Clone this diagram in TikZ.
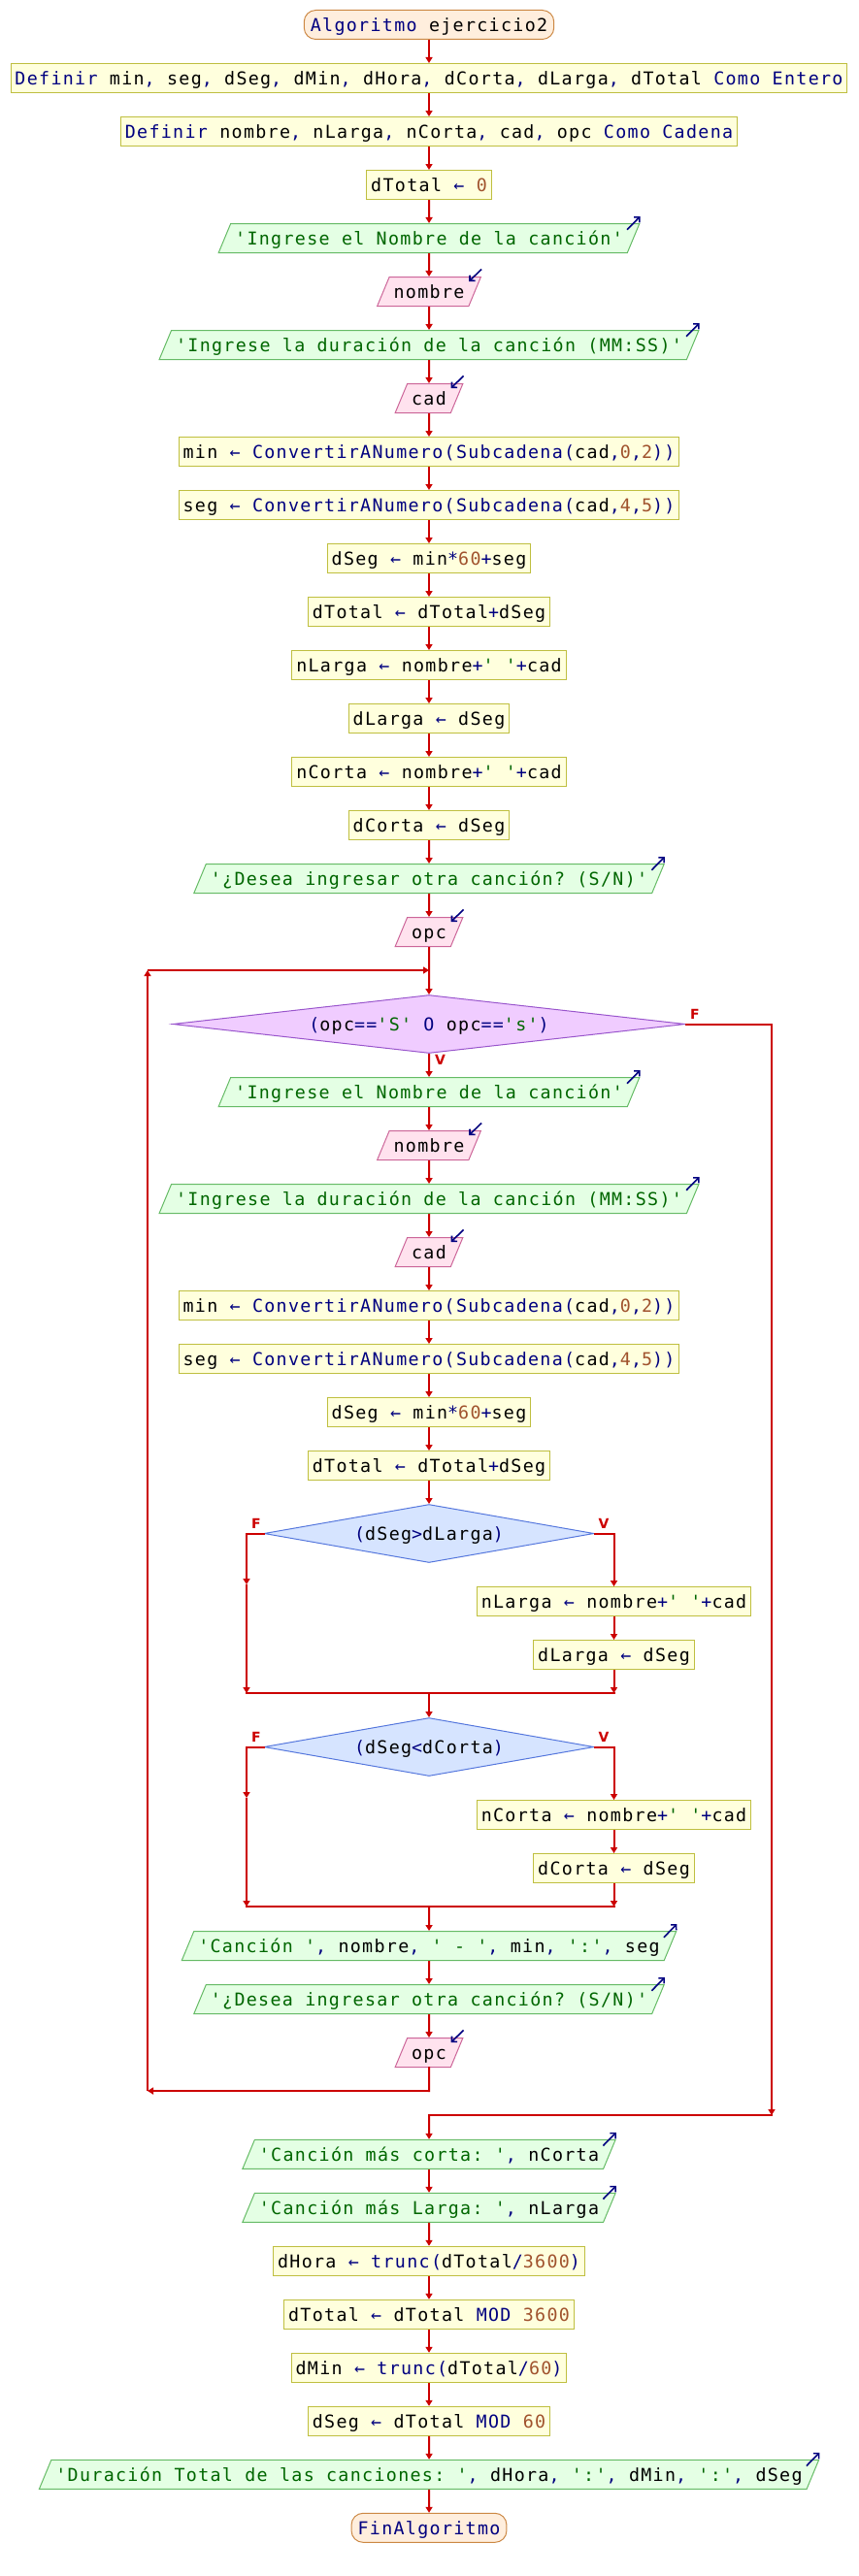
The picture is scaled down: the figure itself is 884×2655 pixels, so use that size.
\documentclass[tikz,border=0pt]{standalone}
\usepackage{fontspec}
\setmonofont{DejaVu Sans Mono}[LetterSpace=7.3]
\newfontfamily\lblfont{DejaVu Sans}
\usetikzlibrary{shapes.geometric,arrows.meta}
\definecolor{navy}{HTML}{000080}
\definecolor{numc}{HTML}{A0522D}
\definecolor{strc}{HTML}{006600}
\definecolor{flowc}{HTML}{CC0000}
\definecolor{procf}{HTML}{FFFFDD}
\definecolor{procb}{HTML}{BFBF40}
\definecolor{termf}{HTML}{FFEEDD}
\definecolor{termb}{HTML}{CC8844}
\definecolor{outf}{HTML}{E4FFE4}
\definecolor{outb}{HTML}{66BB66}
\definecolor{inf}{HTML}{FFE2EE}
\definecolor{inb}{HTML}{CC6699}
\definecolor{loopf}{HTML}{F0CCFF}
\definecolor{loopb}{HTML}{9955CC}
\definecolor{iff}{HTML}{D6E4FF}
\definecolor{ifb}{HTML}{5577DD}
\newcommand\code{\ttfamily\fontsize{18.3pt}{22pt}\selectfont}
\newcommand\kwd[1]{\textcolor{navy}{#1}}
\newcommand\nmb[1]{\textcolor{numc}{#1}}
\newcommand\strg[1]{\textcolor{strc}{#1}}
\newcommand\outmark[1]{\draw[oarr] ([shift={(-13.5,6.7)}]#1.top right corner) -- ([shift={(0,-7)}]#1.top right corner);}
\newcommand\inmark[1]{\draw[oarr] ([shift={(0,-7.5)}]#1.top right corner) -- ([shift={(-13,5)}]#1.top right corner);}
\tikzset{
 base/.style={font=\code, text height=13.6pt, text depth=0pt, inner xsep=4.5pt, inner ysep=8.2pt, line width=1pt, anchor=center},
 proc/.style={base, rectangle, draw=procb, fill=procf},
 term/.style={base, rectangle, rounded corners=12pt, draw=termb, fill=termf, inner xsep=6.5pt},
 outp/.style={base, trapezium, trapezium left angle=67.4, trapezium right angle=112.6, draw=outb, fill=outf},
 inp/.style={outp, draw=inb, fill=inf},
 loopd/.style={base, diamond, inner sep=0pt, aspect=8.8, minimum width=528pt, minimum height=60pt, draw=loopb, fill=loopf},
 ifd/.style={base, diamond, inner sep=0pt, aspect=5.6, minimum width=340pt, minimum height=60pt, draw=ifb, fill=iff},
 flow/.style={draw=flowc, line width=2pt, -{Triangle[length=6pt,width=7pt]}},
 wire/.style={draw=flowc, line width=2pt, line cap=rect},
 oarr/.style={draw=navy, line width=1.6pt, -{Straight Barb[length=4pt,width=8pt]}},
 lbl/.style={font=\lblfont\bfseries\fontsize{14pt}{16pt}\selectfont, text=flowc, inner sep=0pt},
}
\begin{document}
\begin{tikzpicture}[x=1pt,y=-1pt]
\useasboundingbox (0,0) rectangle (884,2655);
% ---- nodes
\node[term] (start) at (442,25.5) {\kwd{Algoritmo} ejercicio2};
\node[proc, inner xsep=4pt] (def1) at (442,80.5) {\kwd{Definir} min\kwd{,} seg\kwd{,} dSeg\kwd{,} dMin\kwd{,} dHora\kwd{,} dCorta\kwd{,} dLarga\kwd{,} dTotal \kwd{Como Entero}};
\node[proc] (def2) at (442,135.5) {\kwd{Definir} nombre\kwd{,} nLarga\kwd{,} nCorta\kwd{,} cad\kwd{,} opc \kwd{Como Cadena}};
\node[proc] (dt0) at (442,190.5) {dTotal \kwd{←} \nmb{0}};
\node[outp] (o1) at (442,245.5) {\strg{'Ingrese el Nombre de la canción'}};
\node[inp] (i1) at (442,300.5) {nombre};
\node[outp] (o2) at (442,355.5) {\strg{'Ingrese la duración de la canción (MM:SS)'}};
\node[inp] (i2) at (442,410.5) {cad};
\node[proc] (a1) at (442,465.5) {min \kwd{← ConvertirANumero(Subcadena(}cad\kwd{,}\nmb{0}\kwd{,}\nmb{2}\kwd{))}};
\node[proc] (a2) at (442,520.5) {seg \kwd{← ConvertirANumero(Subcadena(}cad\kwd{,}\nmb{4}\kwd{,}\nmb{5}\kwd{))}};
\node[proc] (a3) at (442,575.5) {dSeg \kwd{←} min\kwd{*}\nmb{60}\kwd{+}seg};
\node[proc] (a4) at (442,630.5) {dTotal \kwd{←} dTotal\kwd{+}dSeg};
\node[proc] (a5) at (442,685.5) {nLarga \kwd{←} nombre\kwd{+}\strg{' '}\kwd{+}cad};
\node[proc] (a6) at (442,740.5) {dLarga \kwd{←} dSeg};
\node[proc] (a7) at (442,795.5) {nCorta \kwd{←} nombre\kwd{+}\strg{' '}\kwd{+}cad};
\node[proc] (a8) at (442,850.5) {dCorta \kwd{←} dSeg};
\node[outp] (o3) at (442,905.5) {\strg{'¿Desea ingresar otra canción? (S/N)'}};
\node[inp] (i3) at (442,960.5) {opc};
\node[loopd] (d1) at (442,1055.5) {\kwd{(}opc\kwd{==}\strg{'S'} \kwd{O} opc\kwd{==}\strg{'s'}\kwd{)}};
\node[outp] (o4) at (442,1125.5) {\strg{'Ingrese el Nombre de la canción'}};
\node[inp] (i4) at (442,1180.5) {nombre};
\node[outp] (o5) at (442,1235.5) {\strg{'Ingrese la duración de la canción (MM:SS)'}};
\node[inp] (i5) at (442,1290.5) {cad};
\node[proc] (b1) at (442,1345.5) {min \kwd{← ConvertirANumero(Subcadena(}cad\kwd{,}\nmb{0}\kwd{,}\nmb{2}\kwd{))}};
\node[proc] (b2) at (442,1400.5) {seg \kwd{← ConvertirANumero(Subcadena(}cad\kwd{,}\nmb{4}\kwd{,}\nmb{5}\kwd{))}};
\node[proc] (b3) at (442,1455.5) {dSeg \kwd{←} min\kwd{*}\nmb{60}\kwd{+}seg};
\node[proc] (b4) at (442,1510.5) {dTotal \kwd{←} dTotal\kwd{+}dSeg};
\node[ifd] (d2) at (442,1580.5) {\kwd{(}dSeg\kwd{>}dLarga\kwd{)}};
\node[proc] (c1) at (632.5,1650.5) {nLarga \kwd{←} nombre\kwd{+}\strg{' '}\kwd{+}cad};
\node[proc] (c2) at (632.5,1705.5) {dLarga \kwd{←} dSeg};
\node[ifd] (d3) at (442,1800.5) {\kwd{(}dSeg\kwd{<}dCorta\kwd{)}};
\node[proc] (c3) at (632.5,1870.5) {nCorta \kwd{←} nombre\kwd{+}\strg{' '}\kwd{+}cad};
\node[proc] (c4) at (632.5,1925.5) {dCorta \kwd{←} dSeg};
\node[outp] (o6) at (442,2005.5) {\strg{'Canción '}\kwd{,} nombre\kwd{,} \strg{' - '}\kwd{,} min\kwd{,} \strg{':'}\kwd{,} seg};
\node[outp] (o7) at (442,2060.5) {\strg{'¿Desea ingresar otra canción? (S/N)'}};
\node[inp] (i6) at (442,2115.5) {opc};
\node[outp] (o8) at (442,2220.3) {\strg{'Canción más corta: '}\kwd{,} nCorta};
\node[outp] (o9) at (442,2275.3) {\strg{'Canción más Larga: '}\kwd{,} nLarga};
\node[proc] (e1) at (442,2330.3) {dHora \kwd{← trunc(}dTotal\kwd{/}\nmb{3600}\kwd{)}};
\node[proc] (e2) at (442,2385.3) {dTotal \kwd{←} dTotal \kwd{MOD} \nmb{3600}};
\node[proc] (e3) at (442,2440.3) {dMin \kwd{← trunc(}dTotal\kwd{/}\nmb{60}\kwd{)}};
\node[proc] (e4) at (442,2495.3) {dSeg \kwd{←} dTotal \kwd{MOD} \nmb{60}};
\node[outp] (o10) at (442,2550.3) {\strg{'Duración Total de las canciones: '}\kwd{,} dHora\kwd{,} \strg{':'}\kwd{,} dMin\kwd{,} \strg{':'}\kwd{,} dSeg};
\node[term] (fin) at (442,2605.3) {\kwd{FinAlgoritmo}};
% ---- labels
\node[lbl] (f1) at (716,1045) {F};
\node[lbl] (v1) at (453.5,1092.5) {V};
\node[lbl] (f2) at (264,1570.5) {F};
\node[lbl] (v2) at (622,1570.5) {V};
\node[lbl] (f3) at (264,1790.5) {F};
\node[lbl] (v3) at (622,1790.5) {V};
% ---- io marks
\outmark{o1}\outmark{o2}\outmark{o3}\outmark{o4}\outmark{o5}\outmark{o6}\outmark{o7}\outmark{o8}\outmark{o9}\outmark{o10}
\inmark{i1}\inmark{i2}\inmark{i3}\inmark{i4}\inmark{i5}\inmark{i6}
% ---- coordinates
\coordinate (lj) at (442,1000);
\coordinate (lb1) at (442,2155);
\coordinate (lb2) at (152,2155);
\coordinate (lb3) at (152,1000);
\coordinate (x1) at (795,1055.5);
\coordinate (x2) at (795,2180);
\coordinate (x3) at (442,2180);
\coordinate (l1a) at (254,1580.5);
\coordinate (l1b) at (254,1633);
\coordinate (l1c) at (254,1745);
\coordinate (r1a) at (632.5,1580.5);
\coordinate (r1c) at (632.5,1745);
\coordinate (m1) at (442,1745);
\coordinate (l2a) at (254,1800.5);
\coordinate (l2b) at (254,1853);
\coordinate (l2c) at (254,1965);
\coordinate (r2a) at (632.5,1800.5);
\coordinate (r2c) at (632.5,1965);
\coordinate (m2) at (442,1965);
% ---- main chain
\draw[flow] (start) -- (def1);
\draw[flow] (def1) -- (def2);
\draw[flow] (def2) -- (dt0);
\draw[flow] (dt0) -- (o1.north);
\draw[flow] (o1.south) -- (i1.north);
\draw[flow] (i1.south) -- (o2.north);
\draw[flow] (o2.south) -- (i2.north);
\draw[flow] (i2.south) -- (a1);
\draw[flow] (a1) -- (a2);
\draw[flow] (a2) -- (a3);
\draw[flow] (a3) -- (a4);
\draw[flow] (a4) -- (a5);
\draw[flow] (a5) -- (a6);
\draw[flow] (a6) -- (a7);
\draw[flow] (a7) -- (a8);
\draw[flow] (a8) -- (o3.north);
\draw[flow] (o3.south) -- (i3.north);
\draw[flow] (i3.south) -- (d1.north);
\draw[flow] (d1.south) -- (o4.north);
\draw[flow] (o4.south) -- (i4.north);
\draw[flow] (i4.south) -- (o5.north);
\draw[flow] (o5.south) -- (i5.north);
\draw[flow] (i5.south) -- (b1);
\draw[flow] (b1) -- (b2);
\draw[flow] (b2) -- (b3);
\draw[flow] (b3) -- (b4);
\draw[flow] (b4) -- (d2.north);
% if 1
\draw[wire] (d2.west) -- (l1a);
\draw[flow] (l1a) -- (l1b);
\draw[flow] (l1b) -- (l1c);
\draw[wire] (d2.east) -- (r1a);
\draw[flow] (r1a) -- (c1.north);
\draw[flow] (c1) -- (c2);
\draw[flow] (c2.south) -- (r1c);
\draw[wire] (l1c) -- (r1c);
\draw[flow] (m1) -- (d3.north);
% if 2
\draw[wire] (d3.west) -- (l2a);
\draw[flow] (l2a) -- (l2b);
\draw[flow] (l2b) -- (l2c);
\draw[wire] (d3.east) -- (r2a);
\draw[flow] (r2a) -- (c3.north);
\draw[flow] (c3) -- (c4);
\draw[flow] (c4.south) -- (r2c);
\draw[wire] (l2c) -- (r2c);
\draw[flow] (m2) -- (o6.north);
\draw[flow] (o6.south) -- (o7.north);
\draw[flow] (o7.south) -- (i6.north);
% loop back
\draw[wire] (i6.south) -- (lb1);
\draw[flow] (lb1) -- (lb2);
\draw[flow] (lb2) -- (lb3);
\draw[flow] (lb3) -- (lj);
% exit
\draw[wire] (d1.east) -- (x1);
\draw[flow] (x1) -- (x2);
\draw[wire] (x2) -- (x3);
\draw[flow] (x3) -- (o8.north);
\draw[flow] (o8.south) -- (o9.north);
\draw[flow] (o9.south) -- (e1);
\draw[flow] (e1) -- (e2);
\draw[flow] (e2) -- (e3);
\draw[flow] (e3) -- (e4);
\draw[flow] (e4) -- (o10.north);
\draw[flow] (o10.south) -- (fin);
\end{tikzpicture}
\end{document}
